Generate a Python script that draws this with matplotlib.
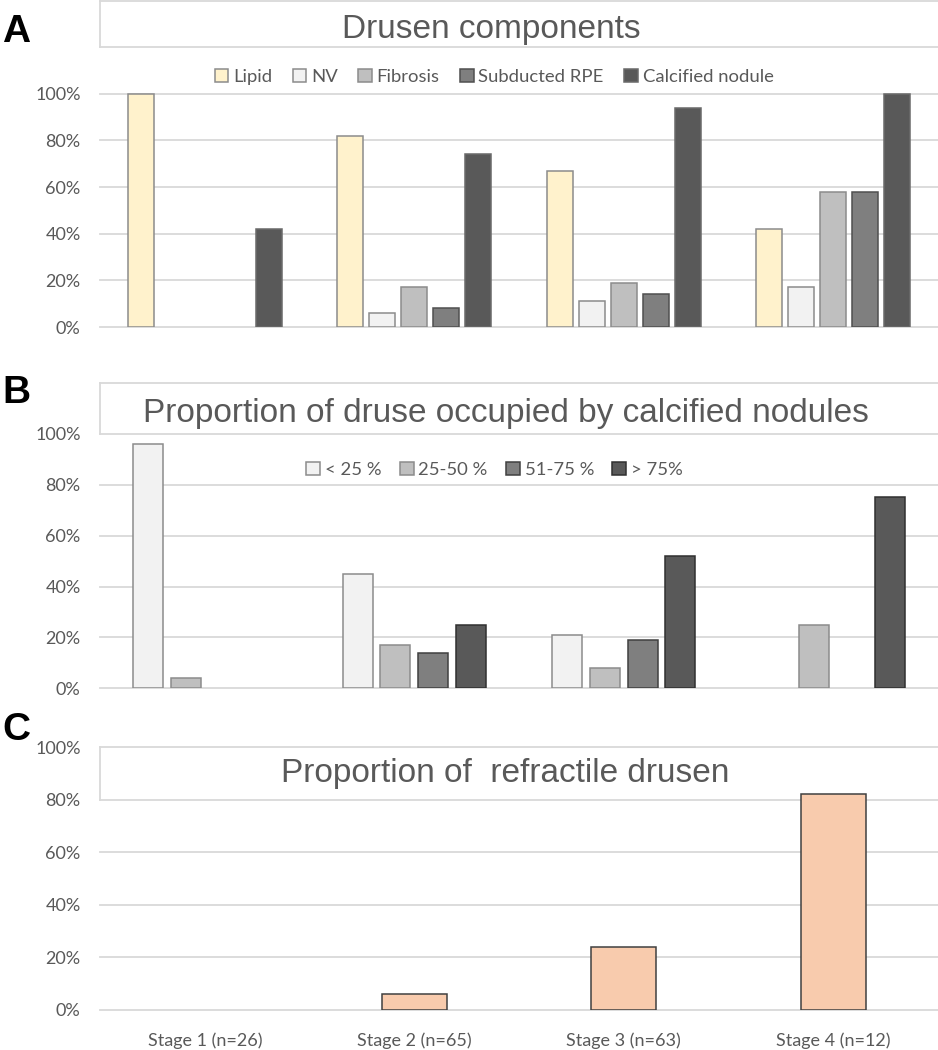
import numpy as np
import matplotlib
matplotlib.use("Agg")
import matplotlib.pyplot as plt
from matplotlib.patches import Patch

# ---------------- data ----------------
stages = ["Stage 1 (n=26)", "Stage 2 (n=65)", "Stage 3 (n=63)", "Stage 4 (n=12)"]

comp_names = ["Lipid", "NV", "Fibrosis", "Subducted RPE", "Calcified nodule"]
lipid = [1.00, 0.82, 0.67, 0.42]
nv = [0.00, 0.06, 0.11, 0.17]
fibrosis = [0.00, 0.17, 0.19, 0.58]
subducted = [0.00, 0.08, 0.14, 0.58]
calcified = [0.42, 0.74, 0.94, 1.00]

prop_names = ["< 25 %", "25-50 %", "51-75 %", "> 75%"]
lt25 = [0.96, 0.45, 0.21, 0.00]
p25_50 = [0.04, 0.17, 0.08, 0.25]
p51_75 = [0.00, 0.14, 0.19, 0.00]
gt75 = [0.00, 0.25, 0.52, 0.75]

refractile = [0.00, 0.06, 0.24, 0.82]

# ---------------- style ----------------
W, H = 938, 1050
GRID = "#D9D9D9"
TXT = "#595959"
TITLE_FONT = ["Liberation Sans", "DejaVu Sans"]
TICK_FONT = ["Lato", "DejaVu Sans"]
LW = 1.1

fig = plt.figure(figsize=(W / 100, H / 100), dpi=100)


def px_axes(left, right, top, bottom):
    return fig.add_axes([left / W, 1 - bottom / H, (right - left) / W, (bottom - top) / H])


def setup(ax, ymax, xlabels=False):
    ax.set_xlim(-0.5, len(stages) - 0.5)
    ax.set_ylim(0, ymax)
    for s in ax.spines.values():
        s.set_visible(False)
    ticks = np.arange(0, 1.001, 0.2)
    ax.set_yticks(ticks)
    ax.set_yticklabels([f"{int(round(t * 100))}%" for t in ticks],
                       family=TICK_FONT, fontsize=13, color=TXT)
    ax.tick_params(axis="y", length=0, pad=14)
    levels = np.arange(0, ymax + 0.001, 0.2)
    for lv in levels:
        ax.axhline(lv, color=GRID, lw=1.3, zorder=0, clip_on=False)
    # left border of the top band
    ax.plot([-0.5, -0.5], [ymax - 0.2, ymax], color=GRID, lw=1.3, clip_on=False, zorder=0)
    if xlabels:
        ax.set_xticks(range(len(stages)))
        ax.set_xticklabels(stages, family=TICK_FONT, fontsize=13, color=TXT)
        ax.tick_params(axis="x", length=0, pad=16)
    else:
        ax.set_xticks([])


def draw_bars(ax, xpos, vals, width, fc, ec):
    lws = [LW if v > 0 else 0 for v in vals]
    ax.bar(xpos, vals, width=width, color=fc, edgecolor=ec, linewidth=lws, zorder=2)


x = np.arange(len(stages))

# ---------------- panel A ----------------
axA = px_axes(100, 938, 0.6, 327)
setup(axA, 1.4)
seriesA = [lipid, nv, fibrosis, subducted, calcified]
fillsA = ["#FFF2CC", "#F2F2F2", "#BFBFBF", "#7F7F7F", "#595959"]
edgesA = ["#8C8C8C", "#8C8C8C", "#8C8C8C", "#505050", "#6A6A6A"]
pitchA, widthA = 0.153, 0.124
for i, (vals, fc, ec) in enumerate(zip(seriesA, fillsA, edgesA)):
    draw_bars(axA, x + (i - 2) * pitchA, vals, widthA, fc, ec)
handlesA = [Patch(facecolor=f, edgecolor=e, linewidth=LW) for f, e in zip(fillsA, edgesA)]
fig.legend(handlesA, comp_names, loc="center", bbox_to_anchor=(494 / W, 1 - 77 / H),
           ncol=5, frameon=False, handlelength=0.75, handleheight=0.75,
           handletextpad=0.25, columnspacing=1.1,
           prop={"family": TICK_FONT, "size": 13.3}, labelcolor=TXT)
fig.text(491 / W, 1 - 38 / H, "Drusen components", ha="center", va="baseline",
         family=TITLE_FONT, fontsize=24, color=TXT)

# ---------------- panel B ----------------
axB = px_axes(100, 938, 383, 688.3)
setup(axB, 1.2)
seriesB = [lt25, p25_50, p51_75, gt75]
fillsB = ["#F2F2F2", "#BFBFBF", "#7F7F7F", "#595959"]
edgesB = ["#8C8C8C", "#8C8C8C", "#404040", "#303030"]
pitchB, widthB = 0.18, 0.143
for i, (vals, fc, ec) in enumerate(zip(seriesB, fillsB, edgesB)):
    draw_bars(axB, x + (i - 1.5) * pitchB, vals, widthB, fc, ec)
handlesB = [Patch(facecolor=f, edgecolor=e, linewidth=LW) for f, e in zip(fillsB, edgesB)]
fig.legend(handlesB, prop_names, loc="center", bbox_to_anchor=(494.5 / W, 1 - 470 / H),
           ncol=4, frameon=False, handlelength=0.75, handleheight=0.75,
           handletextpad=0.25, columnspacing=1.0,
           prop={"family": TICK_FONT, "size": 13.3}, labelcolor=TXT)
fig.text(506 / W, 1 - 422 / H, "Proportion of druse occupied by calcified nodules",
         ha="center", va="baseline", family=TITLE_FONT, fontsize=24, color=TXT)

# ---------------- panel C ----------------
axC = px_axes(100, 938, 747, 1010)
setup(axC, 1.0, xlabels=True)
draw_bars(axC, x, refractile, 0.31, "#F8CBAD", "#404040")
fig.text(505 / W, 1 - 782 / H, "Proportion of  refractile drusen", ha="center",
         va="baseline", family=TITLE_FONT, fontsize=24, color=TXT)

# ---------------- panel letters ----------------
for letter, base in [("A", 42), ("B", 403), ("C", 740)]:
    fig.text(2 / W, 1 - base / H, letter, ha="left", va="baseline",
             family=TITLE_FONT, fontweight="bold", fontsize=28, color="black")

fig.savefig("out.png", dpi=100, facecolor="white")
